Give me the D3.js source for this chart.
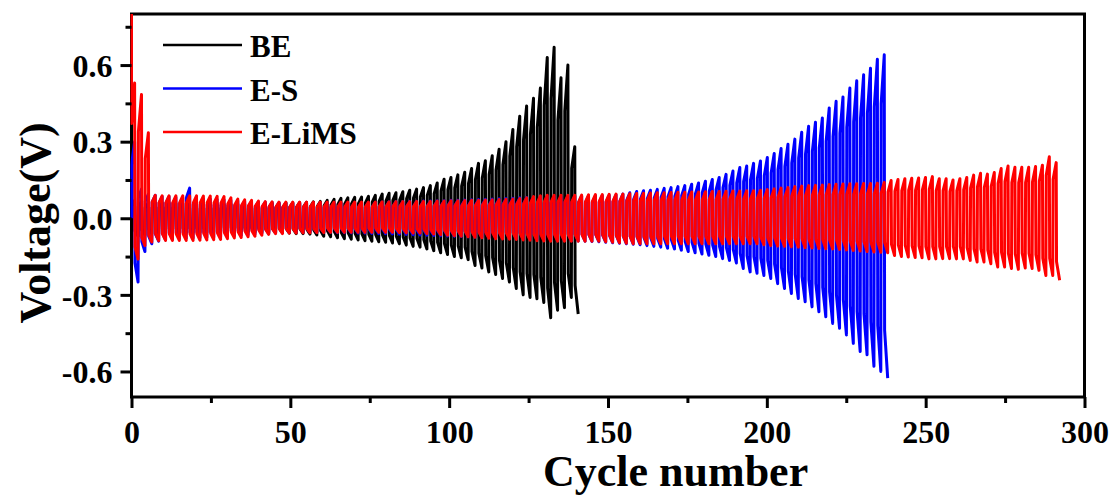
<!DOCTYPE html>
<html>
<head>
<meta charset="utf-8">
<script src="https://cdn.jsdelivr.net/npm/d3@7"></script>
<style>
  body { margin: 0; background: #fff; }
  svg text { font-family: "Liberation Serif", "Times New Roman", serif; font-weight: bold; fill: #000; }
</style>
</head>
<body>
<div id="app"></div>
<script>
// one entry per voltage spike (charge / discharge peak)
var seriesNames = ['BE', 'E-S', 'E-LiMS'];
var seriesColors = ['#000000', '#0000ff', '#ff0000'];
var firstVoltage = [0, 0, 0.95];
var spikePeriod = 2.165;   // cycles between neighbouring spikes
var firstSpike = 0.98;

var beUpper = [
  0.07, 0.065, 0.06, 0.06, 0.06, 0.06, 0.058, 0.058, 0.056, 0.056,
  0.055, 0.055, 0.055, 0.055, 0.055, 0.055, 0.056, 0.056, 0.056, 0.057,
  0.057, 0.058, 0.059, 0.06, 0.061, 0.062, 0.064, 0.066, 0.07, 0.074,
  0.078, 0.08, 0.082, 0.083, 0.086, 0.09, 0.095, 0.098, 0.1, 0.104,
  0.11, 0.114, 0.12, 0.128, 0.138, 0.153, 0.16, 0.17, 0.18, 0.195,
  0.215, 0.225, 0.245, 0.27, 0.3, 0.348, 0.4, 0.44, 0.47, 0.51,
  0.63, 0.67, 0.55, 0.6, 0.28
];
var beLower = [
  -0.07, -0.065, -0.06, -0.06, -0.06, -0.058, -0.058, -0.056, -0.056, -0.055,
  -0.055, -0.054, -0.054, -0.053, -0.053, -0.053, -0.053, -0.054, -0.054, -0.055,
  -0.055, -0.056, -0.058, -0.06, -0.06, -0.062, -0.065, -0.07, -0.072, -0.076,
  -0.08, -0.082, -0.085, -0.088, -0.09, -0.092, -0.094, -0.097, -0.1, -0.105,
  -0.11, -0.113, -0.12, -0.127, -0.135, -0.142, -0.15, -0.155, -0.162, -0.185,
  -0.195, -0.21, -0.22, -0.236, -0.25, -0.275, -0.3, -0.31, -0.315, -0.33,
  -0.39, -0.36, -0.35, -0.31, -0.375
];

var esUpper = [
  0.3, 0.114, 0.095, 0.09, 0.085, 0.085, 0.082, 0.08, 0.118, 0.078,
  0.076, 0.075, 0.073, 0.072, 0.07, 0.068, 0.066, 0.065, 0.064, 0.063,
  0.062, 0.061, 0.06, 0.06, 0.06, 0.06, 0.06, 0.06, 0.06, 0.06,
  0.06, 0.06, 0.06, 0.06, 0.061, 0.062, 0.063, 0.064, 0.065, 0.065,
  0.066, 0.066, 0.067, 0.067, 0.068, 0.068, 0.07, 0.07, 0.071, 0.072,
  0.073, 0.074, 0.075, 0.076, 0.077, 0.078, 0.08, 0.081, 0.082, 0.083,
  0.084, 0.085, 0.085, 0.086, 0.086, 0.087, 0.087, 0.088, 0.089, 0.09,
  0.092, 0.095, 0.1, 0.105, 0.108, 0.11, 0.113, 0.117, 0.12, 0.124,
  0.128, 0.133, 0.138, 0.145, 0.152, 0.16, 0.172, 0.185, 0.199, 0.205,
  0.215, 0.224, 0.238, 0.254, 0.273, 0.29, 0.31, 0.337, 0.36, 0.376,
  0.393, 0.432, 0.458, 0.475, 0.51, 0.539, 0.562, 0.588, 0.623, 0.64
];
var esLower = [
  -0.25, -0.13, -0.1, -0.09, -0.085, -0.082, -0.08, -0.078, -0.077, -0.076,
  -0.075, -0.074, -0.072, -0.07, -0.068, -0.066, -0.064, -0.062, -0.06, -0.06,
  -0.058, -0.057, -0.056, -0.055, -0.055, -0.055, -0.055, -0.055, -0.055, -0.056,
  -0.056, -0.057, -0.058, -0.058, -0.059, -0.06, -0.06, -0.061, -0.062, -0.063,
  -0.064, -0.065, -0.066, -0.067, -0.068, -0.069, -0.07, -0.071, -0.072, -0.073,
  -0.074, -0.075, -0.076, -0.077, -0.078, -0.08, -0.081, -0.082, -0.083, -0.084,
  -0.085, -0.086, -0.087, -0.088, -0.089, -0.09, -0.091, -0.092, -0.094, -0.096,
  -0.098, -0.1, -0.102, -0.104, -0.107, -0.11, -0.113, -0.117, -0.12, -0.125,
  -0.13, -0.135, -0.14, -0.145, -0.15, -0.158, -0.165, -0.175, -0.197, -0.21,
  -0.215, -0.224, -0.236, -0.256, -0.275, -0.295, -0.314, -0.327, -0.347, -0.366,
  -0.386, -0.412, -0.431, -0.457, -0.49, -0.522, -0.535, -0.58, -0.6, -0.626
];

var limsUpper = [
  0.53, 0.485, 0.335, 0.09, 0.088, 0.088, 0.088, 0.088, 0.088, 0.088,
  0.087, 0.087, 0.086, 0.085, 0.08, 0.075, 0.072, 0.07, 0.067, 0.065,
  0.064, 0.063, 0.063, 0.063, 0.063, 0.063, 0.063, 0.063, 0.063, 0.063,
  0.063, 0.063, 0.063, 0.063, 0.063, 0.063, 0.064, 0.064, 0.065, 0.065,
  0.065, 0.066, 0.066, 0.066, 0.067, 0.067, 0.068, 0.068, 0.069, 0.07,
  0.07, 0.071, 0.072, 0.073, 0.074, 0.075, 0.077, 0.08, 0.085, 0.088,
  0.09, 0.09, 0.09, 0.09, 0.09, 0.091, 0.092, 0.093, 0.093, 0.094,
  0.095, 0.095, 0.096, 0.097, 0.098, 0.099, 0.1, 0.1, 0.101, 0.102,
  0.102, 0.103, 0.103, 0.104, 0.105, 0.105, 0.106, 0.107, 0.107, 0.108,
  0.108, 0.11, 0.112, 0.115, 0.118, 0.12, 0.124, 0.126, 0.128, 0.129,
  0.13, 0.132, 0.133, 0.134, 0.135, 0.135, 0.136, 0.136, 0.137, 0.14,
  0.148, 0.152, 0.155, 0.157, 0.158, 0.16, 0.163, 0.155, 0.155, 0.15,
  0.155, 0.16, 0.169, 0.176, 0.173, 0.179, 0.195, 0.205, 0.2, 0.2,
  0.2, 0.203, 0.208, 0.241, 0.218
];
var limsLower = [
  -0.16, -0.107, -0.093, -0.088, -0.087, -0.087, -0.087, -0.087, -0.087, -0.086,
  -0.085, -0.084, -0.083, -0.08, -0.077, -0.075, -0.072, -0.07, -0.066, -0.063,
  -0.06, -0.06, -0.058, -0.058, -0.057, -0.057, -0.056, -0.056, -0.055, -0.055,
  -0.055, -0.055, -0.055, -0.055, -0.055, -0.055, -0.055, -0.055, -0.056, -0.057,
  -0.058, -0.058, -0.06, -0.062, -0.064, -0.066, -0.068, -0.07, -0.072, -0.074,
  -0.076, -0.078, -0.08, -0.081, -0.082, -0.083, -0.085, -0.086, -0.088, -0.089,
  -0.09, -0.09, -0.09, -0.09, -0.09, -0.09, -0.09, -0.09, -0.092, -0.094,
  -0.096, -0.098, -0.1, -0.1, -0.1, -0.1, -0.1, -0.1, -0.1, -0.1,
  -0.1, -0.1, -0.1, -0.1, -0.1, -0.1, -0.1, -0.1, -0.1, -0.1,
  -0.1, -0.104, -0.107, -0.109, -0.11, -0.112, -0.113, -0.115, -0.116, -0.118,
  -0.119, -0.12, -0.122, -0.124, -0.126, -0.128, -0.13, -0.132, -0.133, -0.135,
  -0.146, -0.15, -0.152, -0.154, -0.155, -0.159, -0.159, -0.158, -0.158, -0.159,
  -0.159, -0.165, -0.171, -0.171, -0.178, -0.191, -0.191, -0.197, -0.2, -0.195,
  -0.197, -0.204, -0.224, -0.224, -0.243
];

var xMajor = [0, 50, 100, 150, 200, 250, 300];
var xMinor = [25, 75, 125, 175, 225, 275];
var yMajor = [-0.6, -0.3, 0, 0.3, 0.6];
var yMinor = [-0.45, -0.15, 0.15, 0.45, 0.75];

var width = 1115,
    height = 495,
    plotLeft = 131.5,
    plotRight = 1084.5,
    plotTop = 14,
    plotBottom = 397;

var svg = d3.select('#app')
    .append('svg')
    .attr('width', width)
    .attr('height', height);

svg.append('rect').attr('width', width).attr('height', height).attr('fill', '#fff');

var xScale = d3.scaleLinear().domain([0, 300]).range([plotLeft, plotRight]);
var yScale = d3.scaleLinear().domain([-0.7, 0.8]).range([plotBottom, plotTop]);

svg.append('clipPath')
    .attr('id', 'plot-clip')
    .append('rect')
    .attr('x', plotLeft - 1)
    .attr('y', plotTop)
    .attr('width', plotRight - plotLeft + 1)
    .attr('height', plotBottom - plotTop);

// frame first, so the first red spike sits over the left axis like in the original
svg.append('rect')
    .attr('x', plotLeft)
    .attr('y', plotTop)
    .attr('width', plotRight - plotLeft)
    .attr('height', plotBottom - plotTop)
    .attr('fill', 'none')
    .attr('stroke', '#000')
    .attr('stroke-width', 3);

// turn the spike peaks into a charge / discharge trace
function trace(upper, lower, v0) {
    var pts = [[0, v0]];
    upper.forEach(function (h, k) {
        var c = firstSpike + k * spikePeriod;
        var l = lower[k];
        pts.push([c - 0.45 * spikePeriod, 0.7 * h]);
        pts.push([c, h]);
        pts.push([c + 0.05 * spikePeriod, 0.7 * l]);
        pts.push([c + 0.5 * spikePeriod, l]);
    });
    return pts;
}

var traces = [
    trace(beUpper, beLower, firstVoltage[0]),
    trace(esUpper, esLower, firstVoltage[1]),
    trace(limsUpper, limsLower, firstVoltage[2])
];

var line = d3.line()
    .x(function (d) { return xScale(d[0]); })
    .y(function (d) { return yScale(d[1]); });

svg.append('g')
    .attr('clip-path', 'url(#plot-clip)')
    .selectAll('path')
    .data(traces)
    .enter()
    .append('path')
    .attr('d', line)
    .attr('fill', 'none')
    .attr('stroke', function (d, i) { return seriesColors[i]; })
    .attr('stroke-width', 3)
    .attr('stroke-linejoin', 'round');

// axes
var xAxis = svg.append('g')
    .attr('transform', 'translate(0,' + plotBottom + ')')
    .call(d3.axisBottom(xScale).tickValues(xMajor).tickSize(11).tickSizeOuter(0));
svg.append('g')
    .attr('transform', 'translate(0,' + plotBottom + ')')
    .call(d3.axisBottom(xScale).tickValues(xMinor).tickSize(6).tickFormat('').tickSizeOuter(0));
var yAxis = svg.append('g')
    .attr('transform', 'translate(' + plotLeft + ',0)')
    .call(d3.axisLeft(yScale).tickValues(yMajor).tickSize(11).tickSizeOuter(0)
        .tickFormat(function (d) { return d.toFixed(1); }));
svg.append('g')
    .attr('transform', 'translate(' + plotLeft + ',0)')
    .call(d3.axisLeft(yScale).tickValues(yMinor).tickSize(6).tickFormat('').tickSizeOuter(0));

svg.selectAll('.domain').remove();
svg.selectAll('.tick line').attr('stroke', '#000').attr('stroke-width', 3);

xAxis.selectAll('text')
    .attr('y', 46)
    .attr('dy', 0)
    .style('font-size', '32px');
yAxis.selectAll('text')
    .attr('x', -19)
    .attr('dy', '0.35em')
    .style('font-size', '32px');

// axis titles
svg.append('text')
    .attr('x', 543)
    .attr('y', 486)
    .style('font-size', '44px')
    .text('Cycle number');

svg.append('text')
    .attr('transform', 'translate(50,223) rotate(-90)')
    .attr('text-anchor', 'middle')
    .style('font-size', '44px')
    .text('Voltage(V)');

// legend
var legend = svg.append('g')
    .selectAll('g')
    .data(seriesNames)
    .enter()
    .append('g')
    .attr('transform', function (d, i) { return 'translate(163,' + (45 + i * 43.5) + ')'; });

legend.append('line')
    .attr('x1', 0)
    .attr('x2', 79)
    .attr('stroke', function (d, i) { return seriesColors[i]; })
    .attr('stroke-width', 2.5);

legend.append('text')
    .attr('x', 87)
    .attr('y', 12)
    .style('font-size', '31px')
    .text(function (d) { return d; });
</script>
</body>
</html>
